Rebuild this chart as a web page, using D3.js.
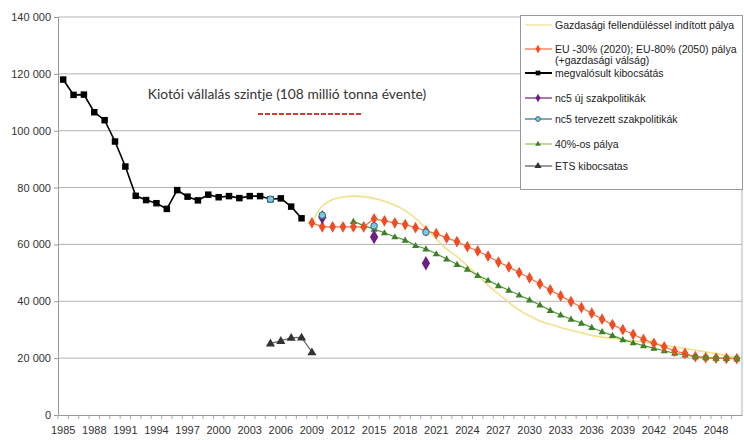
<!DOCTYPE html>
<html><head><meta charset="utf-8">
<script src="https://cdn.jsdelivr.net/npm/d3@7"></script>
<style>
html,body{margin:0;padding:0;background:#fff;}
svg{display:block;}
</style></head>
<body>
<svg id="chart" width="744" height="440"></svg>
<script>
// ---------- DATA ----------
const years = [1985,1986,1987,1988,1989,1990,1991,1992,1993,1994,1995,1996,1997,1998,1999,2000,2001,2002,2003,2004,2005,2006,2007,2008,2009,2010,2011,2012,2013,2014,2015,2016,2017,2018,2019,2020,2021,2022,2023,2024,2025,2026,2027,2028,2029,2030,2031,2032,2033,2034,2035,2036,2037,2038,2039,2040,2041,2042,2043,2044,2045,2046,2047,2048,2049,2050];
const xTickLabels = [1985,1988,1991,1994,1997,2000,2003,2006,2009,2012,2015,2018,2021,2024,2027,2030,2033,2036,2039,2042,2045,2048];
const yTicks = [0,20000,40000,60000,80000,100000,120000,140000];

// megvalósult kibocsátás, 1985–2008
const actualStart = 1985;
const actual = [118000,112600,112700,106500,103700,96200,87400,77100,75600,74500,72500,79100,76800,75500,77500,76600,77000,76300,77000,77000,75900,76200,73300,69200];

// Gazdasági fellendüléssel indított pálya, 2009–2050
const boomStart = 2009;
const boom = [67600,73500,75800,76700,77000,76800,76200,75200,73800,71900,69200,65700,62000,58400,55700,52400,49200,45600,42600,39600,36900,34800,33100,31900,30800,29800,28900,28000,27400,26900,26500,26100,25700,25200,24600,24000,23400,22800,22200,21600,20900,20200];

// EU -30% (2020); EU-80% (2050) pálya, 2009–2050
const euStart = 2009;
const eu = [67600,66200,66200,66200,66200,66200,69000,68300,67600,67000,65900,64800,63800,62300,61000,59200,57700,55900,53800,52100,50100,48200,46100,44000,41900,39900,37800,35800,33700,31800,30000,28400,26600,25200,24000,22500,21700,20500,20200,20000,19900,19800];

// 40%-os pálya, 2013–2050
const p40Start = 2013;
const p40 = [68100,66600,65400,64100,62700,61500,59600,58400,56700,54900,53000,51300,49100,47400,45500,43900,42200,40500,38700,36800,35200,33700,32300,30800,29300,28000,26500,25400,24400,23500,22600,21700,21100,20500,20200,20000,19900,19800];

// nc5 új szakpolitikák
const nc5NewYears = [2010,2015,2020];
const nc5New = [69600,62600,53400];

// nc5 tervezett szakpolitikák
const nc5PlanYears = [2005,2010,2015,2020];
const nc5Plan = [75900,70300,66500,64300];

// ETS kibocsatas, 2005–2009
const etsStart = 2005;
const ets = [25200,26100,27200,27300,22100];

const kyotoLabel = "Kiotói vállalás szintje (108 millió tonna évente)";
const legendLabels = [
  ["Gazdasági fellendüléssel indított pálya"],
  ["EU -30% (2020); EU-80% (2050) pálya", "(+gazdasági válság)"],
  ["megvalósult kibocsátás"],
  ["nc5 új szakpolitikák"],
  ["nc5 tervezett szakpolitikák"],
  ["40%-os pálya"],
  ["ETS kibocsatas"]
];

// ---------- CHART ----------
const svg = d3.select("#chart");
const L = 58, R = 742, T = 17, B = 415;
const x = d3.scaleBand().domain(years).range([L, R]).padding(0);
const y = d3.scaleLinear().domain([0, 140000]).range([B, T]);
const cx = yr => x(yr) + x.bandwidth() / 2;
const fontAx = "'Liberation Sans', Arial, sans-serif";
const toPts = (start, arr) => arr.map((v, i) => ({yr: start + i, v}));

// gridlines
svg.append("g").selectAll("line").data(yTicks.filter(d => d > 0)).join("line")
  .attr("x1", L).attr("x2", R).attr("y1", d => y(d)).attr("y2", d => y(d))
  .attr("stroke", "#b4b4b4").attr("stroke-width", 1);
// right border
svg.append("line").attr("x1", R).attr("x2", R).attr("y1", T).attr("y2", B)
  .attr("stroke", "#b4b4b4");

// y axis
const yAxis = d3.axisLeft(y).tickValues(yTicks).tickSize(4).tickPadding(3)
  .tickFormat(d => d3.format(",")(d).replace(/,/g, " "));
const gy = svg.append("g").attr("transform", `translate(${L},0)`).call(yAxis);
gy.select(".domain").attr("stroke", "#999");
gy.selectAll(".tick line").attr("stroke", "#999");
gy.selectAll("text").attr("font-family", fontAx).attr("font-size", 11).attr("fill", "#333");

// x axis
const xAxis = d3.axisBottom(x).tickValues(xTickLabels).tickSize(0).tickPadding(11);
const gx = svg.append("g").attr("transform", `translate(0,${B})`).call(xAxis);
gx.select(".domain").attr("stroke", "#999");
gx.selectAll("text").attr("font-family", fontAx).attr("font-size", 11).attr("fill", "#333");
// minor ticks at category boundaries
svg.append("g").selectAll("line").data(years).join("line")
  .attr("x1", d => x(d)).attr("x2", d => x(d)).attr("y1", B).attr("y2", B + 4)
  .attr("stroke", "#aaa");

// Kyoto annotation
svg.append("text").attr("x", 287).attr("y", 99).attr("text-anchor", "middle")
  .attr("font-family", "Lato, 'Open Sans', sans-serif").attr("font-size", 13.8)
  .attr("fill", "#333").text(kyotoLabel);
svg.append("line").attr("x1", 258).attr("x2", 362).attr("y1", 114).attr("y2", 114)
  .attr("stroke", "#d8383c").attr("stroke-width", 2).attr("stroke-dasharray", "5,2");

const line = d3.line().x(d => cx(d.yr)).y(d => y(d.v));

// symbols
function marker(g, type, size, fill, stroke) {
  const sym = {square: d3.symbolSquare, diamond: d3.symbolDiamond, triangle: d3.symbolTriangle, circle: d3.symbolCircle}[type];
  return g.attr("d", d3.symbol().type(sym).size(size)).attr("fill", fill)
    .attr("stroke", stroke || "none");
}

// yellow smooth line
svg.append("path").datum(toPts(boomStart, boom))
  .attr("d", d3.line().x(d => cx(d.yr)).y(d => y(d.v)).curve(d3.curveCatmullRom))
  .attr("fill", "none").attr("stroke", "#f2e08c").attr("stroke-width", 1.6);

// green 40%
const g40 = toPts(p40Start, p40);
svg.append("path").datum(g40).attr("d", line).attr("fill", "none")
  .attr("stroke", "#4f9a35").attr("stroke-width", 1.2);
svg.append("g").selectAll("path").data(g40).join("path")
  .attr("transform", d => `translate(${cx(d.yr)},${y(d.v) + 0.5})`)
  .call(s => marker(s, "triangle", 22, "#3f7f28"));

// orange EU
const gEu = toPts(euStart, eu);
svg.append("path").datum(gEu).attr("d", line).attr("fill", "none")
  .attr("stroke", "#f0703c").attr("stroke-width", 1.2);
svg.append("g").selectAll("path").data(gEu).join("path")
  .attr("transform", d => `translate(${cx(d.yr)},${y(d.v)})`)
  .call(s => marker(s, "diamond", 40, "#ef4e24"));
// overlap tail (olive) for 2046–2050 where green and orange coincide
svg.append("g").selectAll("path").data(g40.filter(d => d.yr >= 2046)).join("path")
  .attr("transform", d => `translate(${cx(d.yr)},${y(d.v)})`)
  .call(s => marker(s, "circle", 30, "#7a7a22"));

// black actual
const gAct = toPts(actualStart, actual);
svg.append("path").datum(gAct).attr("d", line).attr("fill", "none")
  .attr("stroke", "#000").attr("stroke-width", 1.6);
svg.append("g").selectAll("path").data(gAct).join("path")
  .attr("transform", d => `translate(${cx(d.yr)},${y(d.v)})`)
  .call(s => marker(s, "square", 42, "#000"));

// ETS
const gEts = toPts(etsStart, ets);
svg.append("path").datum(gEts).attr("d", line).attr("fill", "none")
  .attr("stroke", "#666").attr("stroke-width", 1.2);
svg.append("g").selectAll("path").data(gEts).join("path")
  .attr("transform", d => `translate(${cx(d.yr)},${y(d.v) + 0.5})`)
  .call(s => marker(s, "triangle", 36, "#333"));

// purple nc5 new
svg.append("g").selectAll("path").data(nc5NewYears.map((yr, i) => ({yr, v: nc5New[i]}))).join("path")
  .attr("transform", d => `translate(${cx(d.yr)},${y(d.v)})`)
  .call(s => marker(s, "diamond", 60, "#6e1f82"));

// blue nc5 planned
svg.append("g").selectAll("path").data(nc5PlanYears.map((yr, i) => ({yr, v: nc5Plan[i]}))).join("path")
  .attr("transform", d => `translate(${cx(d.yr)},${y(d.v)})`)
  .call(s => marker(s, "circle", 34, "#7cc8dc", "#2f6a80"));

// ---------- LEGEND ----------
const lg = svg.append("g");
lg.append("rect").attr("x", 520.5).attr("y", 15.5).attr("width", 222).attr("height", 174)
  .attr("fill", "#fff").attr("stroke", "#9a9a9a");
const legendY = [25, 49, 73, 98, 119, 144, 166];
const legendStyle = [
  {stroke: "#f2e08c", sym: null},
  {stroke: "#f0703c", sym: "diamond", size: 22, fill: "#ef4e24"},
  {stroke: "#000", sym: "square", size: 22, fill: "#000", w: 2},
  {stroke: "#6e1f82", sym: "diamond", size: 22, fill: "#6e1f82"},
  {stroke: "#2f6a80", sym: "circle", size: 18, fill: "#7cc8dc", ms: "#2f6a80"},
  {stroke: "#8fbf5a", sym: "triangle", size: 14, fill: "#3f7f28"},
  {stroke: "#555", sym: "triangle", size: 22, fill: "#333"}
];
legendLabels.forEach((lines, i) => {
  const st = legendStyle[i], yy = legendY[i];
  lg.append("line").attr("x1", 525).attr("x2", 552).attr("y1", yy).attr("y2", yy)
    .attr("stroke", st.stroke).attr("stroke-width", st.w || 1.2);
  if (st.sym) {
    lg.append("path").attr("transform", `translate(538,${yy})`)
      .call(s => marker(s, st.sym, st.size, st.fill, st.ms));
  }
  lines.forEach((t, j) => {
    lg.append("text").attr("x", 555).attr("y", yy + 4 + j * 11)
      .attr("font-family", fontAx).attr("font-size", 10.5).attr("fill", "#222")
      .text(t);
  });
});
</script>
</body></html>
